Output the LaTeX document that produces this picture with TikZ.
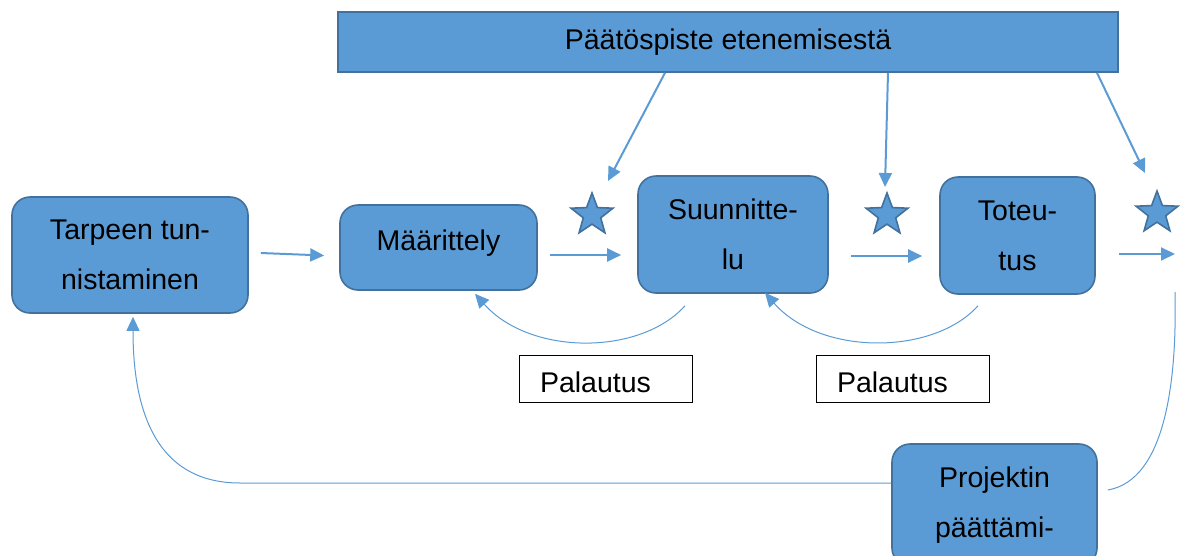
\documentclass[tikz,border=0pt]{standalone}
\usepackage{fontspec}
\setmainfont{Liberation Sans}
\usetikzlibrary{arrows.meta,calc,shapes.geometric}
\definecolor{boxblue}{HTML}{5B9BD5}
\definecolor{boxedge}{HTML}{41719C}

\tikzset{
	phase/.style={draw=boxedge, line width=1.6pt, fill=boxblue, rounded corners=18pt,
		align=center, inner sep=0pt, font=\fontsize{28.5}{50}\selectfont},
	note/.style={draw=black, line width=0.8pt, inner xsep=21pt, inner ysep=0pt,
		text width=131pt, minimum height=47pt, align=left, font=\fontsize{28.5}{34}\selectfont},
	gate/.style={star, star points=5, star point ratio=2.4, minimum size=44pt, inner sep=0pt,
		draw=boxedge, line width=1.6pt, fill=boxblue},
	flow/.style={draw=boxblue, line width=2pt, -{Triangle[length=14pt,width=13pt]}},
	back/.style={draw=boxblue, line width=1pt, -{Triangle[length=14pt,width=13pt]}},
}

\begin{document}
\begin{tikzpicture}[x=1pt,y=-1pt]
	\useasboundingbox (0,0) rectangle (1187,555);
	\clip (0,0) rectangle (1187,555);
	% vaiheet
	\node[phase, minimum width=780pt, minimum height=60pt, rounded corners=0pt] (bar) at (728,42) {Päätöspiste etenemisestä};
	\node[phase, minimum width=236pt, minimum height=116pt] (tarve) at (130,255) {Tarpeen tun-\\nistaminen};
	\node[phase, minimum width=197pt, minimum height=85pt] (maar) at (438.5,247.5) {\raisebox{-2.5pt}[0pt][0pt]{Määrittely}};
	\node[phase, minimum width=190pt, minimum height=117pt] (suun) at (733,234.5) {Suunnitte-\\lu};
	\node[phase, minimum width=155pt, minimum height=117pt] (tot) at (1017.5,235.5) {Toteu-\\tus};
	\node[phase, minimum width=205pt, minimum height=122pt] (proj) at (994.5,505) {Projektin\\päättämi-};
	\node[note] (pal1) at (605.5,378.5) {\raisebox{-13.5pt}[0pt][0pt]{Palautus}};
	\node[note] (pal2) at (902.5,378.5) {\raisebox{-13.5pt}[0pt][0pt]{Palautus}};
	\node[gate] (g1) at (592,215) {};
	\node[gate] (g2) at (887,215) {};
	\node[gate] (g3) at (1157,213) {};
	\coordinate (exit) at (1175,254);

	% eteneminen
	\draw[flow] ($(tarve.east)+(12,-2)$) -- ($(maar.west)+(-15,8)$);
	\draw[flow] ($(maar.east)+(12,7.5)$) -- ($(suun.west)+(-16,20.5)$);
	\draw[flow] ($(suun.east)+(22,21.5)$) -- ($(tot.west)+(-17,20.5)$);
	\draw[flow] ($(tot.east)+(23,18.5)$) -- (exit);
	\draw[flow] ($(bar.south)+(-63,0)$) -- ($(g1)+(16,-34)$);
	\draw[flow] ($(bar.south)+(160,0)$) -- ($(g2)+(-2,-28)$);
	\draw[flow] ($(bar.south)+(369,0)$) -- ($(g3)+(-12,-40)$);

	% palautteet
	\draw[back] ($(suun.south)+(-48,12)$) .. controls ($(suun.south)+(-93,62)$) and ($(maar.south)+(91.5,65)$) .. ($(maar.south)+(36.5,3)$);
	\draw[back] ($(tot.south)+(-39.5,11)$) .. controls ($(tot.south)+(-84.5,61)$) and ($(suun.south)+(87,62)$) .. ($(suun.south)+(32,-1)$);
	\draw[draw=boxblue, line width=1pt] ($(proj.east)+(10,-15)$) .. controls ($(proj.east)+(68,-25)$) and ($(exit)+(2,126)$) .. ($(exit)+(0,38)$);
	\draw[back] ($(proj.west)+(0,-22)$) -- (240,483) .. controls (150,483) and (133,400) .. ($(tarve.south)+(3,3)$);
\end{tikzpicture}
\end{document}
